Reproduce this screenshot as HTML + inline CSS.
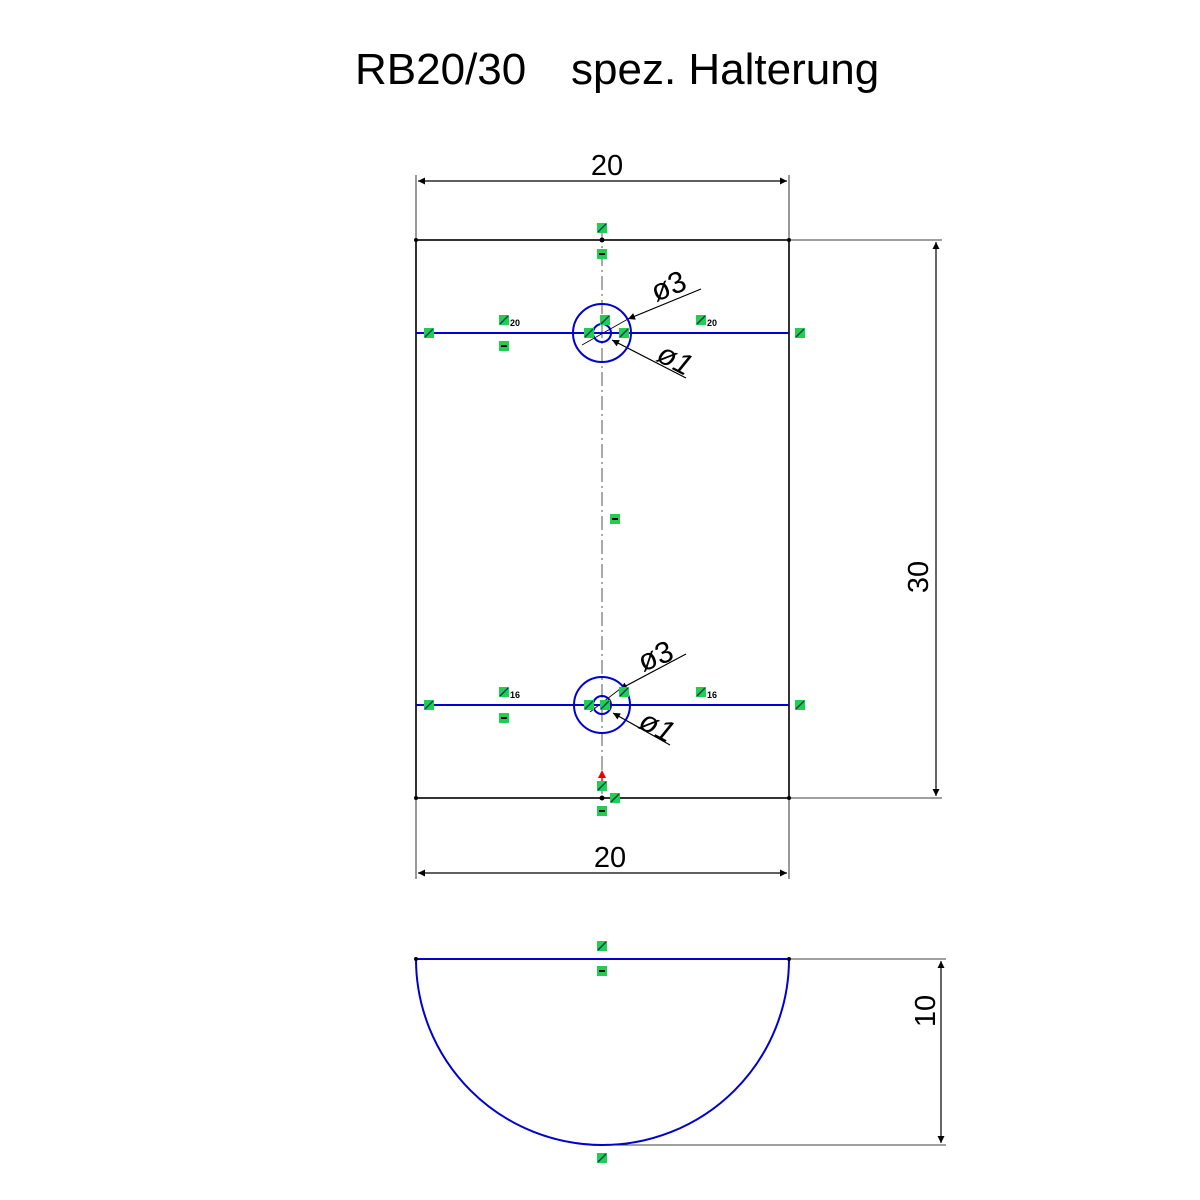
<!DOCTYPE html>
<html><head><meta charset="utf-8"><style>body{margin:0;background:#fff}svg{display:block}</style></head><body>
<svg width="1200" height="1200" viewBox="0 0 1200 1200" xmlns="http://www.w3.org/2000/svg" font-family="Liberation Sans, sans-serif">
<defs>
<marker id="a" viewBox="0 0 10 10" refX="10" refY="5" markerWidth="18" markerHeight="7" markerUnits="userSpaceOnUse" orient="auto-start-reverse"><path d="M0,0L10,5L0,10z" fill="#000"/></marker>
<g id="g"><rect x="-5" y="-5" width="10" height="10" fill="#1fcf4f"/><path d="M-4,4L4,-4" stroke="#135" stroke-width="1.3"/></g>
<g id="e"><rect x="-5" y="-5" width="10" height="10" fill="#1fcf4f"/><path d="M-3,0H3" stroke="#000" stroke-width="2"/></g>
</defs>
<text x="355" y="84" font-size="44">RB20/30</text>
<text x="571" y="84" font-size="44">spez. Halterung</text>
<g stroke="#000" stroke-width="1.2" fill="none">
<rect x="416" y="240" width="373" height="558" stroke-width="1.6"/>
<path d="M416,175V240M789,175V240M416,798V879M789,798V879M789,240H942M789,798H942M789,959H946M602,1145H946" stroke-width="0.8"/>
<path d="M418,181H787" marker-start="url(#a)" marker-end="url(#a)"/>
<path d="M418,873H787" marker-start="url(#a)" marker-end="url(#a)"/>
<path d="M936,242V796" marker-start="url(#a)" marker-end="url(#a)"/>
<path d="M941,961V1143" marker-start="url(#a)" marker-end="url(#a)"/>
<path d="M602,228V795" stroke="#555" stroke-width="1" stroke-dasharray="14,4,2,4"/>
<path d="M701,289L628,319" marker-end="url(#a)"/><path d="M628,319L582,345" stroke-width="0.8"/>
<path d="M686,378L612,340" marker-end="url(#a)"/>
<path d="M686,654L620,689" marker-end="url(#a)"/><path d="M620,689L590,712" stroke-width="0.8"/>
<path d="M670,745L613,713" marker-end="url(#a)"/>
</g>
<g stroke="#0000d0" stroke-width="2" fill="none">
<path d="M416,333H789M416,705H789"/>
<circle cx="602" cy="333" r="29"/><circle cx="602" cy="333" r="9"/>
<circle cx="602" cy="705" r="28"/><circle cx="602" cy="705" r="9"/>
<path d="M416,959H789M416,959A186.5,186 0 0 0 789,959"/>
</g>
<g font-size="29" text-anchor="middle">
<text x="607" y="175">20</text>
<text x="610" y="867">20</text>
<text transform="translate(928,577) rotate(-90)">30</text>
<text transform="translate(935,1011) rotate(-90)">10</text>
</g>
<g font-size="30">
<text transform="translate(656,302) rotate(-22)">ø3</text>
<text transform="translate(655,360) rotate(28)" font-style="italic">ø1</text>
<text transform="translate(643,672) rotate(-22)">ø3</text>
<text transform="translate(637,727) rotate(28)" font-style="italic">ø1</text>
</g>
<g fill="#000">
<circle cx="416" cy="240" r="2"/><circle cx="789" cy="240" r="2"/><circle cx="416" cy="798" r="2"/><circle cx="789" cy="798" r="2"/>
<circle cx="416" cy="959" r="2"/><circle cx="789" cy="959" r="2"/><circle cx="602" cy="240" r="2.5"/><circle cx="602" cy="798" r="2.5"/>
</g>
<path d="M602,785V772" stroke="#e00" stroke-width="1.5"/><path d="M598,778L602,770L606,778z" fill="#e00"/>
<use href="#g" x="602" y="228"/><use href="#e" x="602" y="254"/>
<use href="#g" x="429" y="333"/><use href="#g" x="800" y="333"/>
<use href="#g" x="504" y="320"/><use href="#e" x="504" y="346"/><use href="#g" x="701" y="320"/>
<use href="#g" x="605" y="320"/><use href="#g" x="589" y="333"/><use href="#g" x="624" y="333"/>
<use href="#e" x="615" y="519"/>
<use href="#g" x="429" y="705"/><use href="#g" x="800" y="705"/>
<use href="#g" x="504" y="692"/><use href="#e" x="504" y="718"/><use href="#g" x="701" y="692"/>
<use href="#g" x="624" y="692"/><use href="#g" x="589" y="705"/><use href="#g" x="605" y="705"/>
<use href="#g" x="602" y="786"/><use href="#g" x="615" y="798"/><use href="#e" x="602" y="811"/>
<use href="#g" x="602" y="946"/><use href="#e" x="602" y="971"/><use href="#g" x="602" y="1158"/>
<g font-size="9" font-weight="bold"><text x="510" y="326">20</text><text x="707" y="326">20</text><text x="510" y="698">16</text><text x="707" y="698">16</text></g>
</svg>
</body></html>
